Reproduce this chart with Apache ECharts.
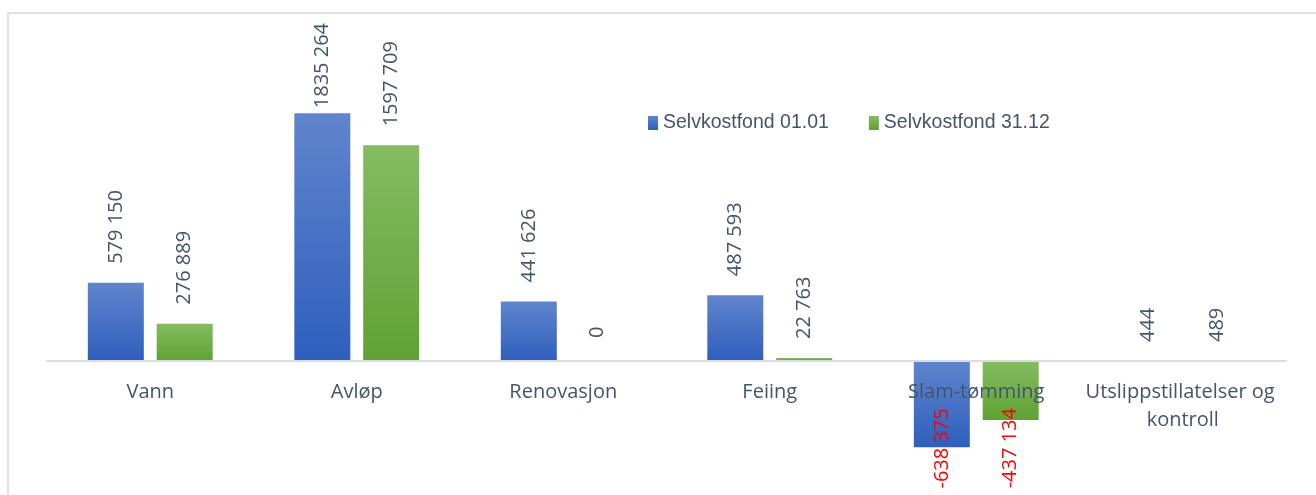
<!DOCTYPE html>
<html>
<head>
<meta charset="utf-8">
<script src="https://cdn.jsdelivr.net/npm/echarts@6/dist/echarts.min.js"></script>
<style>
  html, body { margin: 0; padding: 0; background: #fff; }
  #chart { width: 1316px; height: 495px; }
</style>
</head>
<body>
<div id="chart"></div>
<script>
// data
var categories = ['Vann', 'Avløp', 'Renovasjon', 'Feiing', 'Slam-tømming', 'Utslippstillatelser og kontroll'];
var fond0101 = [579150, 1835264, 441626, 487593, -638375, 444];
var fond3112 = [276889, 1597709, 0, 22763, -437134, 489];
var seriesNames = ['Selvkostfond 01.01', 'Selvkostfond 31.12'];

var yMin = -900000;
var yMax = 2000000;
var textColor = '#44546A';

function fmt(v) {
  // format som i Excel: "### ###" (bare siste tusenskille)
  var s = String(Math.abs(v));
  if (s.length > 3) s = s.slice(0, s.length - 3) + ' ' + s.slice(-3);
  return (v < 0 ? '-' : '') + s;
}

// etikettavstand per stolpe (null = standard)
// negative stolper: avstand fra bunnen av stolpen, innenfor
var labelDist = [[null, 5, null, null, 39, null], [null, null, 23, null, 12, null]];

function buildData(values, idx) {
  var out = [];
  for (var i = 0; i < values.length; i++) {
    var v = values[i];
    var item = { value: v };
    var d = labelDist[idx][i];
    if (v < 0) {
      item.label = {
        position: 'insideBottom',
        distance: d,
        align: 'right',
        verticalAlign: 'middle',
        color: '#FF0000'
      };
    } else if (d !== null) {
      item.label = { distance: d };
    }
    out.push(item);
  }
  return out;
}

function grad(top, bottom) {
  return new echarts.graphic.LinearGradient(0, 0, 0, 1, [
    { offset: 0, color: top },
    { offset: 1, color: bottom }
  ]);
}

var barLabel = {
  show: true,
  position: 'top',
  distance: 19,
  rotate: 90,
  align: 'left',
  verticalAlign: 'middle',
  fontFamily: 'Open Sans',
  fontSize: 20,
  color: textColor,
  formatter: function (p) { return fmt(p.value); }
};

var gridTop = 91;
var gridBottom = 12.4;
var plotH = 495 - gridTop - gridBottom;
// flytt kategoriaksen opp til nullinjen
var zeroOffset = -plotH * (0 - yMin) / (yMax - yMin);

var echart = echarts.init(document.getElementById('chart'));
var option = {
  animation: false,
  backgroundColor: '#fff',
  graphic: [{
    type: 'rect',
    shape: { x: 8, y: 13, width: 1400, height: 600 },
    style: { fill: 'none', stroke: '#DDE2E8', lineWidth: 2 },
    silent: true,
    z: -1
  }],
  legend: {
    left: 643,
    top: 108,
    icon: 'rect',
    itemWidth: 10,
    itemHeight: 14,
    itemGap: 40,
    textStyle: {
      fontFamily: 'Liberation Sans',
      fontSize: 19.5,
      color: textColor
    },
    data: seriesNames
  },
  grid: {
    left: 47,
    right: 30,
    top: gridTop,
    bottom: gridBottom,
    outerBoundsMode: 'none',
    containLabel: false
  },
  xAxis: {
    type: 'category',
    data: categories,
    z: 10,
    offset: zeroOffset,
    axisLine: { onZero: false, lineStyle: { color: '#D9DDE3', width: 2 } },
    axisTick: { show: false },
    axisLabel: {
      interval: 0,
      margin: 17,
      fontFamily: 'Open Sans',
      fontSize: 20,
      lineHeight: 28,
      color: textColor,
      width: 200,
      overflow: 'break'
    }
  },
  yAxis: {
    type: 'value',
    min: yMin,
    max: yMax,
    show: false,
    splitLine: { show: false }
  },
  series: [
    {
      name: seriesNames[0],
      type: 'bar',
      barWidth: 56,
      barGap: '23%',
      itemStyle: { color: grad('#6085CD', '#2E5FBD') },
      label: barLabel,
      data: buildData(fond0101, 0)
    },
    {
      name: seriesNames[1],
      type: 'bar',
      barWidth: 56,
      barGap: '23%',
      itemStyle: { color: grad('#84BC61', '#5FA232') },
      label: barLabel,
      data: buildData(fond3112, 1)
    }
  ]
};
echart.setOption(option);
</script>
</body>
</html>
